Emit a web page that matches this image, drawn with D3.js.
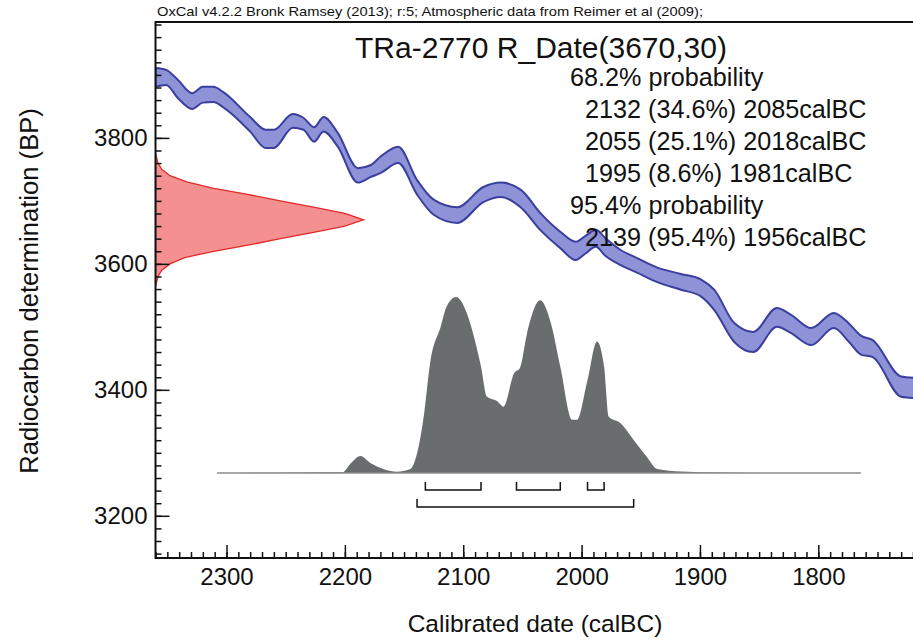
<!DOCTYPE html>
<html>
<head>
<meta charset="utf-8">
<script src="https://cdn.jsdelivr.net/npm/d3@7/dist/d3.min.js"></script>
<style>
	body { margin: 0; background: #fff; }
	text { font-family: "Liberation Sans", Arial, sans-serif; fill: #111; }
</style>
</head>
<body>
<svg id="chart" width="913" height="642"></svg>
<script>
(function(d3) {
	'use strict';

	// calibration curve (IntCal09), 1 sigma band
	var curveCalBC = [2360, 2351, 2341, 2329, 2320, 2311, 2303, 2280, 2267, 2260, 2244, 2235, 2226, 2218, 2206, 2189, 2178, 2170, 2155, 2139, 2125, 2105, 2083, 2068, 2051, 2035, 2018, 2005, 1997, 1988, 1980, 1967, 1954, 1936, 1916, 1899, 1888, 1871, 1855, 1835, 1823, 1806, 1787, 1774, 1764, 1754, 1730, 1719];
	var curveHiBP = [3911, 3908, 3892, 3871, 3881, 3881, 3873, 3833, 3813, 3813, 3838, 3832, 3817, 3833, 3808, 3752, 3757, 3770, 3786, 3733, 3702, 3690, 3722, 3729, 3717, 3681, 3651, 3635, 3644, 3654, 3641, 3622, 3610, 3594, 3584, 3575, 3559, 3506, 3492, 3530, 3519, 3498, 3522, 3505, 3486, 3479, 3421, 3419];
	var curveLoBP = [3881, 3884, 3863, 3846, 3856, 3857, 3849, 3810, 3784, 3784, 3816, 3813, 3794, 3810, 3786, 3729, 3738, 3744, 3760, 3710, 3678, 3665, 3698, 3706, 3689, 3654, 3625, 3606, 3616, 3627, 3613, 3598, 3587, 3571, 3559, 3548, 3527, 3476, 3460, 3500, 3490, 3471, 3498, 3476, 3456, 3452, 3389, 3387];

	// radiocarbon date 3670 +- 30 BP
	var dateBP = [3776, 3760, 3750, 3740, 3730, 3720, 3710, 3700, 3690, 3680, 3670, 3660, 3650, 3640, 3630, 3620, 3610, 3600, 3590, 3580, 3564];
	var dateProb = [0, 0.012, 0.03, 0.07, 0.15, 0.28, 0.45, 0.60, 0.76, 0.91, 1, 0.91, 0.76, 0.60, 0.45, 0.28, 0.14, 0.07, 0.03, 0.012, 0];

	// calibrated distribution
	var postCalBC = [2308, 2238, 2202, 2195, 2187, 2178, 2167, 2156, 2145, 2139, 2133, 2128, 2119, 2114, 2106, 2097, 2091, 2085, 2080, 2071, 2066, 2057, 2052, 2046, 2035, 2026, 2018, 2008, 2004, 1995, 1987, 1981, 1977, 1967, 1956, 1945, 1936, 1916, 1883, 1849, 1764];
	var postProb = [0, 0.003, 0.004, 0.055, 0.097, 0.055, 0.021, 0.007, 0.021, 0.112, 0.34, 0.624, 0.833, 0.946, 1, 0.909, 0.776, 0.605, 0.434, 0.406, 0.377, 0.567, 0.598, 0.795, 0.981, 0.852, 0.605, 0.302, 0.302, 0.529, 0.747, 0.605, 0.32, 0.283, 0.188, 0.093, 0.023, 0.009, 0.003, 0, 0];

	var ranges68 = [[2132, 2085], [2055, 2018], [1995, 1981]];
	var ranges95 = [[2139, 1956]];

	var probLines = [
		{ 'text': '68.2% probability', 'indent': false },
		{ 'text': '2132 (34.6%) 2085calBC', 'indent': true },
		{ 'text': '2055 (25.1%) 2018calBC', 'indent': true },
		{ 'text': '1995 (8.6%) 1981calBC', 'indent': true },
		{ 'text': '95.4% probability', 'indent': false },
		{ 'text': '2139 (95.4%) 1956calBC', 'indent': true }
	];

	var xMajorTicks = [2300, 2200, 2100, 2000, 1900, 1800];
	var yMajorTicks = [3800, 3600, 3400, 3200];

	var left = 155.5, right = 913, top = 22, bottom = 558;
	var svg = d3.select('#chart');

	var x = d3.scaleLinear().domain([2360, 1720]).range([left, right]);
	var y = d3.scaleLinear().domain([3133, 3984]).range([bottom, top]);
	var dateWidth = d3.scaleLinear().domain([0, 1]).range([0, 208]);
	var postY = d3.scaleLinear().domain([0, 1]).range([473, 297]);

	svg.append('clipPath').attr('id', 'plot-clip').append('rect')
		.attr('x', left).attr('y', top).attr('width', right - left).attr('height', bottom - top);

	var plot = svg.append('g').attr('clip-path', 'url(#plot-clip)');

	/** calibration curve */
	var curveData = curveCalBC.map(function(yr, i) {
		return { 'yr': yr, 'hi': curveHiBP[i], 'lo': curveLoBP[i] };
	});
	var band = d3.area().curve(d3.curveMonotoneX)
		.x(function(d) { return x(d.yr); })
		.y0(function(d) { return y(d.lo); })
		.y1(function(d) { return y(d.hi); });
	plot.append('path').datum(curveData).attr('d', band)
		.attr('fill', '#8e92d6').attr('stroke', '#3a3f9e').attr('stroke-width', 2).attr('stroke-linejoin', 'round');

	/** radiocarbon date on the y axis */
	var dateData = dateBP.map(function(bp, i) { return { 'bp': bp, 'p': dateProb[i] }; });
	var dateArea = d3.area()
		.y(function(d) { return y(d.bp); })
		.x0(left)
		.x1(function(d) { return left + dateWidth(d.p); });
	plot.append('path').datum(dateData).attr('d', dateArea)
		.attr('fill', '#f4908f').attr('stroke', '#e02a2a').attr('stroke-width', 1.3);

	/** calibrated distribution */
	var postData = postCalBC.map(function(yr, i) { return { 'yr': yr, 'p': postProb[i] }; });
	var postArea = d3.area().curve(d3.curveMonotoneX)
		.x(function(d) { return x(d.yr); })
		.y0(postY(0))
		.y1(function(d) { return postY(d.p); });
	plot.append('path').datum(postData).attr('d', postArea).attr('fill', '#6a6d6d');
	plot.append('line')
		.attr('x1', x(postCalBC[0])).attr('x2', x(postCalBC[postCalBC.length - 1]))
		.attr('y1', postY(0)).attr('y2', postY(0))
		.attr('stroke', '#8a8c8c').attr('stroke-width', 1.5);

	/** range brackets */
	var drawBrackets = function(ranges, rowY) {
		svg.append('g').selectAll('path').data(ranges).enter().append('path')
			.attr('d', function(r) {
				var x1 = x(r[0]), x2 = x(r[1]);
				return 'M' + x1 + ',' + (rowY - 8) + 'V' + rowY + 'H' + x2 + 'V' + (rowY - 8);
			})
			.attr('fill', 'none').attr('stroke', '#111').attr('stroke-width', 1.5);
	};
	drawBrackets(ranges68, 490);
	drawBrackets(ranges95, 507);

	/** axes */
	var xMinor = d3.range(2360, 1719, -10);
	var yMinor = d3.range(3140, 3984, 20);

	var styleAxis = function(g) {
		g.select('.domain').remove();
		g.selectAll('.tick line').attr('stroke', '#111').attr('stroke-width', 1.5);
		g.selectAll('.tick text').style('font-size', '24px').attr('fill', '#111');
	};

	svg.append('g').attr('transform', 'translate(0,' + bottom + ')')
		.call(d3.axisBottom(x).tickValues(xMinor).tickFormat('').tickSizeInner(-6).tickSizeOuter(0))
		.call(styleAxis);
	svg.append('g').attr('transform', 'translate(0,' + bottom + ')')
		.call(d3.axisBottom(x).tickValues(xMajorTicks).tickFormat(d3.format('d')).tickSizeInner(-13).tickSizeOuter(0).tickPadding(10))
		.call(styleAxis);

	svg.append('g').attr('transform', 'translate(' + left + ',0)')
		.call(d3.axisLeft(y).tickValues(yMinor).tickFormat('').tickSizeInner(-6).tickSizeOuter(0))
		.call(styleAxis);
	svg.append('g').attr('transform', 'translate(' + left + ',0)')
		.call(d3.axisLeft(y).tickValues(yMajorTicks).tickFormat(d3.format('d')).tickSizeInner(-14).tickSizeOuter(0).tickPadding(8))
		.call(styleAxis);

	// frame
	svg.append('path')
		.attr('d', 'M' + right + ',' + top + 'H' + left + 'V' + bottom + 'H' + right)
		.attr('fill', 'none').attr('stroke', '#111').attr('stroke-width', 2);

	/** texts */
	svg.append('text').attr('x', 157).attr('y', 16).style('font-size', '13.5px')
		.attr('textLength', 546).attr('lengthAdjust', 'spacingAndGlyphs')
		.text('OxCal v4.2.2 Bronk Ramsey (2013); r:5; Atmospheric data from Reimer et al (2009);');
	svg.append('text').attr('x', 541).attr('y', 58).attr('text-anchor', 'middle').style('font-size', '30px')
		.text('TRa-2770 R_Date(3670,30)');

	svg.append('g').selectAll('text').data(probLines).enter().append('text')
		.attr('x', function(d) { return d.indent ? 585 : 570; })
		.attr('y', function(d, i) { return 86 + i * 32; })
		.style('font-size', '25.2px')
		.text(function(d) { return d.text; });

	svg.append('text').attr('x', 535).attr('y', 632).attr('text-anchor', 'middle').style('font-size', '24.5px')
		.text('Calibrated date (calBC)');
	svg.append('text').attr('transform', 'translate(38,291) rotate(-90)').attr('text-anchor', 'middle').style('font-size', '25.6px')
		.text('Radiocarbon determination (BP)');
})(d3);
</script>
</body>
</html>
